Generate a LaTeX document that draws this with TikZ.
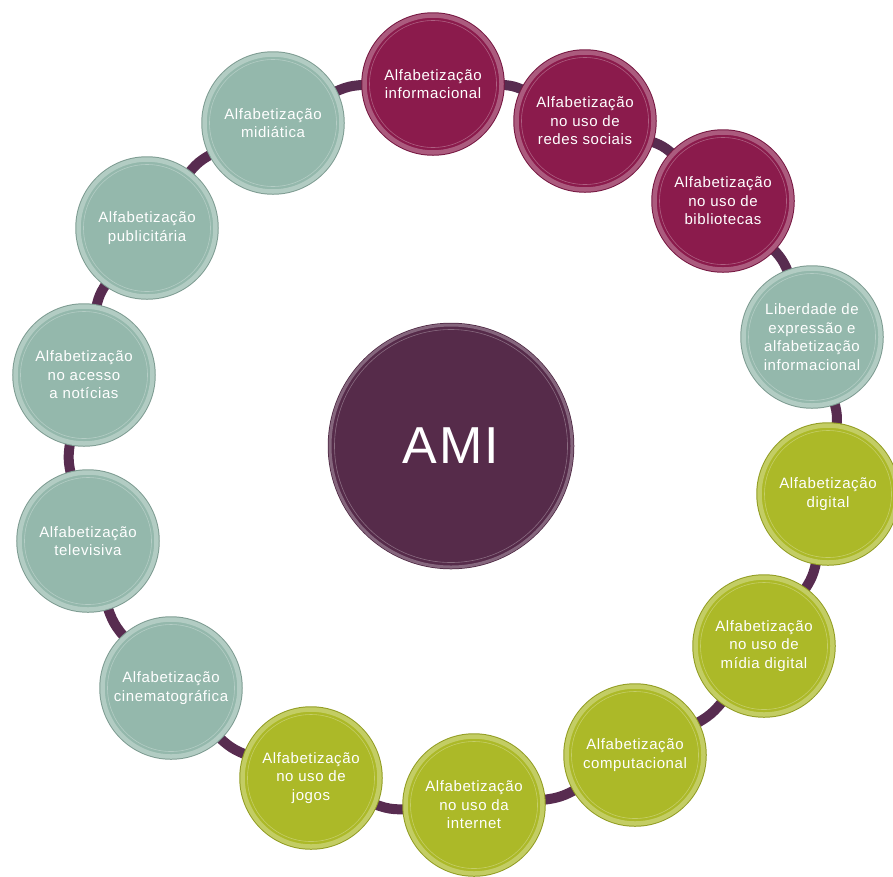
\documentclass[tikz,border=0pt]{standalone}
\usepackage{fontspec}
\setmainfont{Liberation Sans}
\newfontfamily\lblfont[LetterSpace=4]{Liberation Sans}
\usetikzlibrary{backgrounds}
\definecolor{amiwine}{RGB}{139,27,76}
\definecolor{amisage}{RGB}{148,184,172}
\definecolor{amiolive}{RGB}{172,185,40}
\definecolor{amiplum}{RGB}{86,43,74}
\definecolor{amilink}{RGB}{88,44,80}

\begin{document}
\begin{tikzpicture}[x=1pt,y=1pt,
    bubble/.style={circle,inner sep=0pt,minimum size=137pt,
        fill=#1,draw=#1!72!white,line width=4.5pt,
        preaction={draw=#1!85!black,line width=6.5pt},
        path picture={\draw[white,opacity=.3,line width=.6pt]
            (path picture bounding box.center) circle (63.5pt);},
        text=white,align=center,font=\lblfont\fontsize{15}{18.5}\selectfont},
    hub/.style={circle,inner sep=0pt,minimum size=242pt,
        fill=amiplum,draw=amiplum!72!white,line width=3pt,
        preaction={draw=amiplum!88!black,line width=4.5pt},
        path picture={\draw[white,opacity=.3,line width=.6pt]
            (path picture bounding box.center) circle (116.5pt);},
        text=white,font=\lblfont\fontsize{52}{60}\selectfont},
    link/.style={draw=amilink,line width=10pt,
        shorten <=-8pt,shorten >=-8pt}
]
    \useasboundingbox (0,0) rectangle (893,-876);

    \node[hub] (ami) at (451,-446) {AMI};

    \node[bubble=amiwine] (infoLit) at (433,-84)
        {Alfabetização\\informacional};
    \node[bubble=amiwine] (socialLit) at (585,-121)
        {Alfabetização\\no uso de\\redes sociais};
    \node[bubble=amiwine] (libLit) at (723,-201)
        {Alfabetização\\no uso de\\bibliotecas};
    \node[bubble=amisage] (freeLit) at (812,-337)
        {Liberdade de\\expressão e\\alfabetização\\informacional};
    \node[bubble=amiolive] (digitalLit) at (828,-494)
        {Alfabetização\\digital};
    \node[bubble=amiolive] (dmediaLit) at (764,-646)
        {Alfabetização\\no uso de\\mídia digital};
    \node[bubble=amiolive] (compLit) at (635,-755)
        {Alfabetização\\computacional};
    \node[bubble=amiolive] (netLit) at (474,-805)
        {Alfabetização\\no uso da\\internet};
    \node[bubble=amiolive] (gameLit) at (311,-778)
        {Alfabetização\\no uso de\\jogos};
    \node[bubble=amisage] (cineLit) at (171,-688)
        {Alfabetização\\cinematográfica};
    \node[bubble=amisage] (tvLit) at (88,-541)
        {Alfabetização\\televisiva};
    \node[bubble=amisage] (newsLit) at (84,-375)
        {Alfabetização\\no acesso\\a notícias};
    \node[bubble=amisage] (adLit) at (147,-228)
        {Alfabetização\\publicitária};
    \node[bubble=amisage] (mediaLit) at (273,-123)
        {Alfabetização\\midiática};

    % ring behind the bubbles
    \begin{scope}[on background layer]
        \draw[link] (infoLit) to[bend left=13] (socialLit);
        \draw[link] (socialLit) to[bend left=13] (libLit);
        \draw[link] (libLit) to[bend left=13] (freeLit);
        \draw[link] (freeLit) to[bend left=13] (digitalLit);
        \draw[link] (digitalLit) to[bend left=13] (dmediaLit);
        \draw[link] (dmediaLit) to[bend left=13] (compLit);
        \draw[link] (compLit) to[bend left=13] (netLit);
        \draw[link] (netLit) to[bend left=13] (gameLit);
        \draw[link] (gameLit) to[bend left=13] (cineLit);
        \draw[link] (cineLit) to[bend left=13] (tvLit);
        \draw[link] (tvLit) to[bend left=13] (newsLit);
        \draw[link] (newsLit) to[bend left=13] (adLit);
        \draw[link] (adLit) to[bend left=13] (mediaLit);
        \draw[link] (mediaLit) to[bend left=13] (infoLit);
    \end{scope}
\end{tikzpicture}
\end{document}
